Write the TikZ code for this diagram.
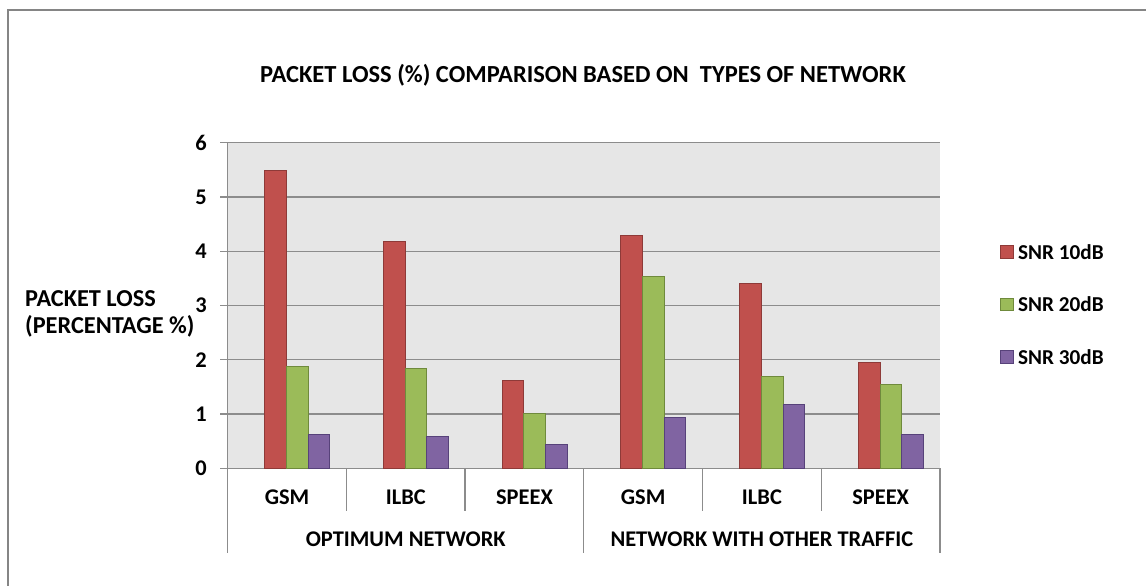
\documentclass[tikz,border=0pt]{standalone}
\usepackage{fontspec}
\setmainfont{Carlito}
\definecolor{serA}{HTML}{C0504D}
\definecolor{serAedge}{HTML}{8E3A38}
\definecolor{serB}{HTML}{9BBB59}
\definecolor{serBedge}{HTML}{6F8A3C}
\definecolor{serC}{HTML}{8064A2}
\definecolor{serCedge}{HTML}{57427A}
\definecolor{plotbg}{HTML}{E6E6E6}
\definecolor{gridgray}{HTML}{8C8C8C}
\definecolor{framegray}{HTML}{858585}
\begin{document}
\begin{tikzpicture}[x=1bp,y=-1bp,
  framestyle/.style={draw=framegray,line width=2bp},
  gridline/.style={draw=gridgray,line width=1.3bp},
  axisline/.style={draw=gridgray,line width=1.2bp},
  bara/.style={fill=serA,draw=serAedge,line width=0.8bp},
  barb/.style={fill=serB,draw=serBedge,line width=0.8bp},
  barc/.style={fill=serC,draw=serCedge,line width=0.8bp},
  lbl/.style={font=\bfseries\fontsize{22.5}{26}\selectfont,inner sep=0pt},
  leglbl/.style={font=\bfseries\fontsize{21.3}{25}\selectfont,inner sep=0pt,anchor=west},
  titlelbl/.style={font=\bfseries\fontsize{24.6}{28}\selectfont,inner sep=0pt}]
\useasboundingbox (0,0) rectangle (1146,586);
\fill[white] (0,0) rectangle (1146,586);
% outer chart frame
\draw[framestyle] (8,586) -- (8,10) -- (1146,10);

% plot area and horizontal grid
\fill[plotbg] (227.6,142.7) rectangle (940,468.3);
\foreach \v in {1,...,6}
  \draw[gridline] (220,{468.3-54.27*\v}) -- (940,{468.3-54.27*\v});
\draw[axisline] (227.6,142.7) -- (227.6,553);
\draw[axisline] (220,468.3) -- (940,468.3);

% category and group separators below the axis
\foreach \c in {1,2,4,5}
  \draw[axisline] ({227.6+118.73*\c},468.3) -- ({227.6+118.73*\c},511);
\draw[axisline] (583.8,468.3) -- (583.8,553);
\draw[axisline] (940,468.3) -- (940,553);

% clustered bars: SNR 10dB, 20dB, 30dB per codec
\foreach \c/\a/\b/\d in {0/5.48/1.885/0.63, 1/4.19/1.85/0.595, 2/1.62/1.02/0.44,
                         3/4.30/3.53/0.94, 4/3.415/1.695/1.18, 5/1.95/1.54/0.63}{
  \pgfmathsetmacro\L{227.6+118.73*\c+37}
  \draw[bara] (\L,468.3) rectangle ({\L+21.7},{468.3-54.27*\a});
  \draw[barb] ({\L+21.7},468.3) rectangle ({\L+43.4},{468.3-54.27*\b});
  \draw[barc] ({\L+43.4},468.3) rectangle ({\L+65.1},{468.3-54.27*\d});
}

% y tick labels
\foreach \v in {0,...,6}
  \node[lbl,anchor=east] (ytick\v) at (207,{468.3-54.27*\v}) {\v};

% axis title
\node[lbl,anchor=west,align=left,font=\bfseries\fontsize{24.4}{27}\selectfont] (ytitle) at (25,313.5) {PACKET LOSS\\(PERCENTAGE \%)};

% chart title
\node[titlelbl] (title) at (583,75) {PACKET LOSS (\%) COMPARISON BASED ON\ \ TYPES OF NETWORK};

% category labels
\foreach \c/\t in {0/GSM,1/ILBC,2/SPEEX,3/GSM,4/ILBC,5/SPEEX}
  \node[lbl] (cat\c) at ({227.6+118.73*\c+59.4},497.5) {\t};
\node[lbl] (grpa) at (405.7,539) {OPTIMUM NETWORK};
\node[lbl] (grpb) at (761.9,539) {NETWORK WITH OTHER TRAFFIC};

% legend
\draw[bara] (1000.3,245.5) rectangle (1013,258) coordinate (lega);
\draw[barb] (1000.3,298) rectangle (1013,310.5) coordinate (legb);
\draw[barc] (1000.3,350.5) rectangle (1013,363) coordinate (legc);
\node[leglbl] (legtxta) at (1018,251.8) {SNR 10dB};
\node[leglbl] (legtxtb) at (1018,304.3) {SNR 20dB};
\node[leglbl] (legtxtc) at (1018,356.8) {SNR 30dB};
\end{tikzpicture}
\end{document}
